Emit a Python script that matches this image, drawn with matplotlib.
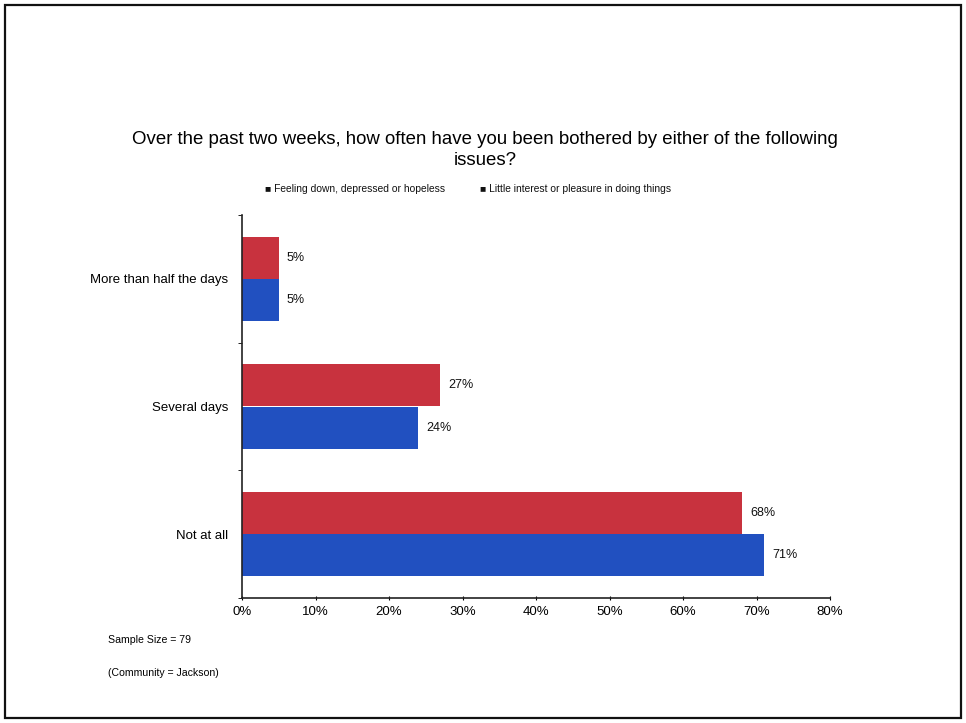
import matplotlib
matplotlib.use("Agg")
import matplotlib.pyplot as plt
from matplotlib.patches import Rectangle
import numpy as np

plt.rcParams['font.family'] = ['Liberation Sans', 'DejaVu Sans']

categories = ["More than half the days", "Several days", "Not at all"]
series_names = ["Feeling down, depressed or hopeless",
                "Little interest or pleasure in doing things"]
feeling_down = [5, 27, 68]
little_interest = [5, 24, 71]
x_ticks = [0, 10, 20, 30, 40, 50, 60, 70, 80]

red = "#C8323E"
blue = "#2150C0"

W, H = 966, 723
fig = plt.figure(figsize=(W / 100, H / 100), dpi=100)
fig.patch.set_facecolor("white")

# outer frame
fig.add_artist(Rectangle((5 / W, 5 / H), 956 / W, 713 / H, transform=fig.transFigure,
                         fill=False, edgecolor="#111111", linewidth=1.6))

left, right, top, bottom = 242, 830, 215, 598
ax = fig.add_axes([left / W, 1 - bottom / H, (right - left) / W, (bottom - top) / H])

y = np.arange(len(categories))
h = 0.33
bars1 = ax.barh(y - h / 2, feeling_down, height=h, color=red, label=series_names[0])
bars2 = ax.barh(y + h / 2, little_interest, height=h, color=blue, label=series_names[1])

for bars, vals in ((bars1, feeling_down), (bars2, little_interest)):
    for b, v in zip(bars, vals):
        ax.text(v + 1.1, b.get_y() + b.get_height() / 2, f"{v}%",
                va="center", ha="left", fontsize=9, color="#111111")

ax.set_xlim(0, 80)
ax.set_ylim(len(categories) - 0.5, -0.5)
ax.set_xticks(x_ticks)
ax.set_xticklabels([f"{t}%" for t in x_ticks], fontsize=9.5)
ax.set_yticks(y)
ax.set_yticklabels(categories, fontsize=9.5)
ax.tick_params(axis="y", length=0, pad=10)
ax.set_yticks(np.arange(-0.5, len(categories)), minor=True)
ax.tick_params(axis="y", which="minor", length=3, direction="out")
ax.tick_params(axis="x", length=3, direction="inout", pad=4)

for s in ("top", "right"):
    ax.spines[s].set_visible(False)
for s in ("left", "bottom"):
    ax.spines[s].set_color("#222222")
    ax.spines[s].set_linewidth(1.2)

fig.text(485 / W, 1 - 150 / H,
         "Over the past two weeks, how often have you been bothered by either of the following\nissues?",
         ha="center", va="center", fontsize=13.4, linespacing=1.35)

# legend row
fig.text(265 / W, 1 - 189 / H, "■ " + series_names[0], ha="left", va="center",
         fontsize=7.4, color="#111111")
fig.text(480 / W, 1 - 189 / H, "■ " + series_names[1], ha="left", va="center",
         fontsize=7.4, color="#111111")

fig.text(108 / W, 1 - 640 / H, "Sample Size = 79", ha="left", va="center", fontsize=7.6)
fig.text(108 / W, 1 - 673 / H, "(Community = Jackson)", ha="left", va="center", fontsize=7.6)

fig.savefig("out.png", dpi=100)
